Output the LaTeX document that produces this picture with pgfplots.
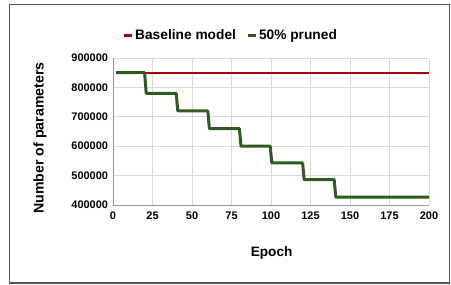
\documentclass[border=0pt]{standalone}
\usepackage{fontspec}
\setmainfont{Liberation Sans}
\usepackage{pgfplots}
\pgfplotsset{compat=1.18}
\definecolor{basered}{HTML}{A80000}
\definecolor{prunegreen}{HTML}{2E5C1E}
\definecolor{framegray}{HTML}{555555}
\begin{document}
\begin{tikzpicture}
\begin{axis}[
  at={(113bp,80bp)}, anchor=south west,
  scale only axis, width=316bp, height=147bp,
  xmin=0, xmax=200, ymin=400000, ymax=900000,
  xtick={0,25,50,75,100,125,150,175,200},
  xticklabels={0,25,50,75,100,125,150,175,200},
  ytick={400000,500000,600000,700000,800000,900000},
  yticklabels={400000,500000,600000,700000,800000,900000},
  scaled ticks=false,
  tick label style={font=\bfseries\fontsize{11}{12}\selectfont},
  major tick length=0pt,
  grid=major,
  grid style={draw=black!15, line width=0.8bp},
  axis lines*=left,
  axis line style={draw=black!40, line width=0.9bp},
  xticklabel style={yshift=-3bp},
  yticklabel style={xshift=-1.5bp},
  xlabel={Epoch},
  ylabel={Number of parameters},
  xlabel style={font=\bfseries\fontsize{13.7}{15}\selectfont, at={(axis description cs:0.502,-0.327)}, anchor=center},
  ylabel style={font=\bfseries\fontsize{14.2}{15}\selectfont, at={(axis description cs:-0.231,0.456)}, anchor=center},
  legend columns=2,
  legend style={at={(axis description cs:0.372,1.156)}, anchor=center, draw=none, fill=none,
    font=\bfseries\fontsize{13.8}{15}\selectfont,
    /tikz/every even column/.append style={column sep=8bp}},
  legend image code/.code={\draw[#1, line width=3bp] (0bp,0bp) -- (8bp,0bp);},
]
\addplot[basered, line width=2.2bp] coordinates {(2,850000) (200,850000)};
\addlegendentry{Baseline model}
\addplot[prunegreen, line width=3bp, line join=round] coordinates {
(2,850000) (20,850000) (21,780000) (40,780000) (41,720000) (60,720000) (61,660000)
(80,660000) (81,600000) (99.5,600000) (100.5,543000) (120,543000) (121,486000)
(140,486000) (141,427000) (200,427000)};
\addlegendentry{50\% pruned}
\end{axis}
\draw[framegray, line width=1.8bp] (9.5bp,1.8bp) rectangle (449.5bp,280.5bp);
\pgfresetboundingbox
\path (0,0) rectangle (451bp,285bp);
\end{tikzpicture}
\end{document}
